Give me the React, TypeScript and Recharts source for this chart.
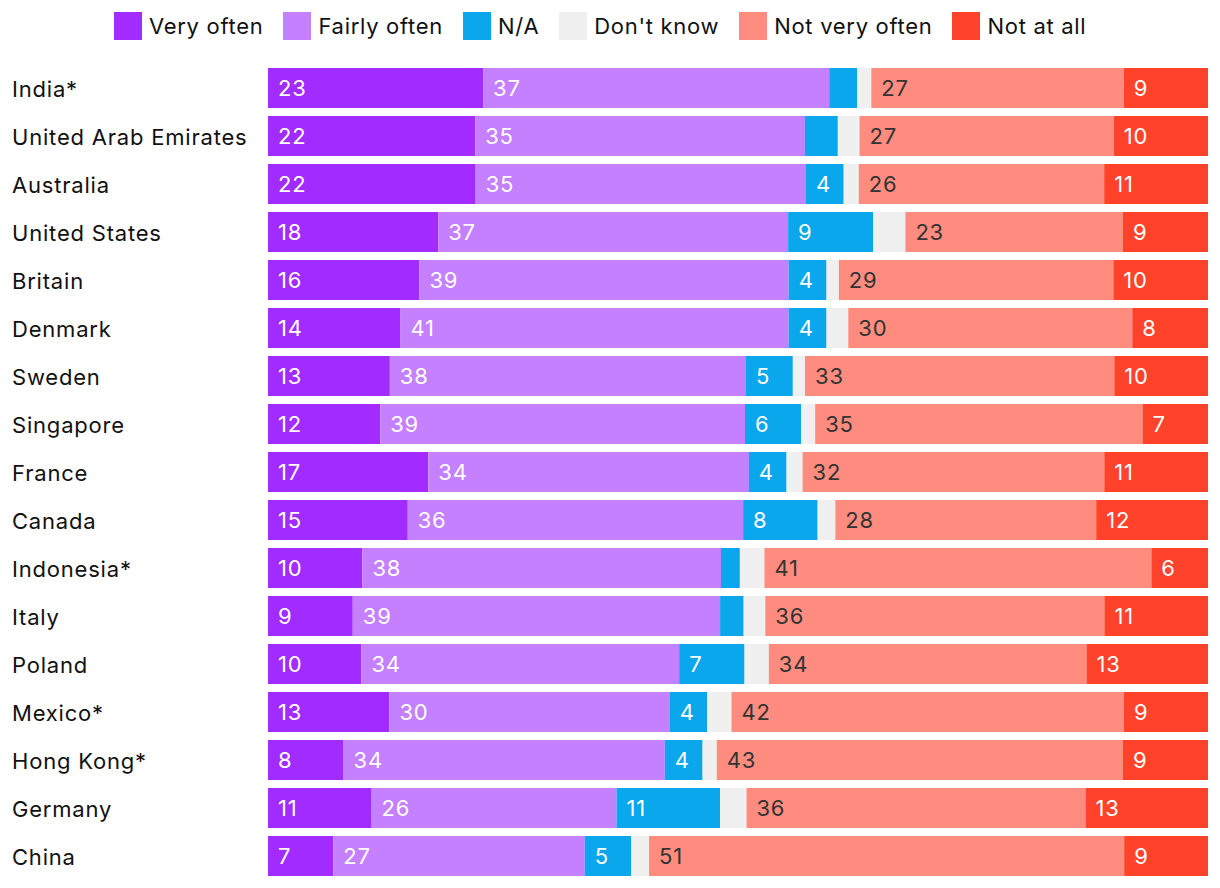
import { BarChart, Bar, XAxis, YAxis, LabelList } from "recharts";

const countries = [
  "India*",
  "United Arab Emirates",
  "Australia",
  "United States",
  "Britain",
  "Denmark",
  "Sweden",
  "Singapore",
  "France",
  "Canada",
  "Indonesia*",
  "Italy",
  "Poland",
  "Mexico*",
  "Hong Kong*",
  "Germany",
  "China",
];
const veryOften = [23, 22, 22, 18, 16, 14, 13, 12, 17, 15, 10, 9, 10, 13, 8, 11, 7];
const fairlyOften = [37, 35, 35, 37, 39, 41, 38, 39, 34, 36, 38, 39, 34, 30, 34, 26, 27];
const notApplicable = [3, 3.5, 4, 9, 4, 4, 5, 6, 4, 8, 2, 2.5, 7, 4, 4, 11, 5];
const dontKnow = [1.5, 2.3, 1.6, 3.4, 1.3, 2.3, 1.3, 1.5, 1.7, 1.9, 2.6, 2.3, 2.6, 2.6, 1.5, 2.8, 1.9];
const notVeryOften = [27, 27, 26, 23, 29, 30, 33, 35, 32, 28, 41, 36, 34, 42, 43, 36, 51];
const notAtAll = [9, 10, 11, 9, 10, 8, 10, 7, 11, 12, 6, 11, 13, 9, 9, 13, 9];

const series = [
  { key: "vo", name: "Very often", color: "#a22bff", text: "#ffffff", label: true },
  { key: "fo", name: "Fairly often", color: "#c580ff", text: "#ffffff", label: true },
  { key: "na", name: "N/A", color: "#0aa7ec", text: "#ffffff", label: true },
  { key: "dk", name: "Don't know", color: "#f0f0f0", text: "#333333", label: false },
  { key: "nvo", name: "Not very often", color: "#ff8c7f", text: "#333333", label: true },
  { key: "naa", name: "Not at all", color: "#ff432b", text: "#ffffff", label: true },
];

const data = countries.map((country, i) => ({
  country,
  vo: veryOften[i],
  fo: fairlyOften[i],
  na: notApplicable[i],
  dk: dontKnow[i],
  nvo: notVeryOften[i],
  naa: notAtAll[i],
}));

const FONT = "Inter, 'Noto Sans', sans-serif";

function CountryTick({ y, payload }: any) {
  return (
    <text
      x={12}
      y={y}
      dy={9}
      fontSize={22}
      letterSpacing={0.8}
      fill="#111"
      textAnchor="start"
      fontFamily={FONT}
    >
      {payload.value}
    </text>
  );
}

function TopLegend() {
  return (
    <div
      style={{
        position: "absolute",
        left: 114,
        top: 12,
        display: "flex",
        alignItems: "center",
        fontFamily: FONT,
        fontSize: 22,
        letterSpacing: 0.7,
        color: "#111",
      }}
    >
      {series.map((s) => (
        <div key={s.key} style={{ display: "flex", alignItems: "center", marginRight: 20 }}>
          <span style={{ width: 28, height: 28, background: s.color, marginRight: 7 }} />
          <span>{s.name}</span>
        </div>
      ))}
    </div>
  );
}

export default function App() {
  return (
    <div style={{ position: "absolute", left: 0, top: 0, width: 1220, height: 888, background: "#fff" }}>
      <TopLegend />
      <BarChart
        width={1220}
        height={888}
        data={data}
        layout="vertical"
        stackOffset="expand"
        barCategoryGap={4}
        margin={{ top: 64, right: 12, bottom: 8, left: 0 }}
      >
        <XAxis type="number" hide domain={[0, 1]} />
        <YAxis
          type="category"
          dataKey="country"
          width={268}
          axisLine={false}
          tickLine={false}
          tick={<CountryTick />}
        />
        {series.map((s) => (
          <Bar key={s.key} dataKey={s.key} name={s.name} stackId="a" fill={s.color} isAnimationActive={false}>
            {s.label && (
              <LabelList
                dataKey={s.key}
                position="insideLeft"
                offset={10}
                fill={s.text}
                fontSize={22}
                letterSpacing={0.8}
                fontFamily={FONT}
                formatter={(v: any) => (v >= 4 ? Math.round(v) : "")}
              />
            )}
          </Bar>
        ))}
      </BarChart>
    </div>
  );
}
